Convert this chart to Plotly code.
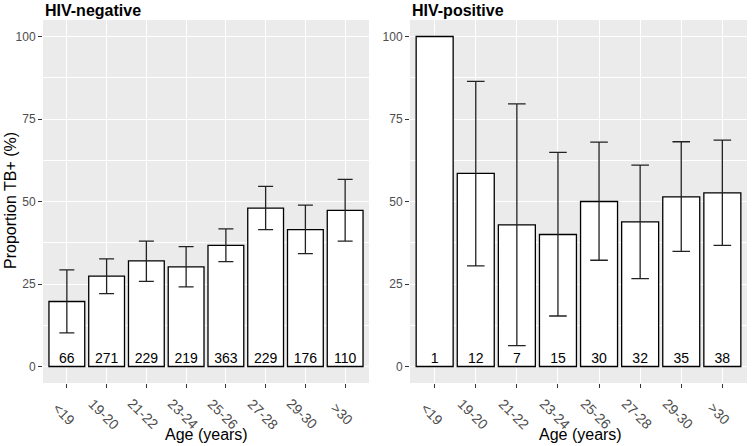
import plotly.graph_objects as go

age_groups = ["<19", "19-20", "21-22", "23-24", "25-26", "27-28", "29-30", ">30"]

neg_prop = [19.7, 27.4, 32.0, 30.2, 36.7, 48.0, 41.5, 47.3]
neg_low = [10.2, 22.1, 25.8, 24.1, 31.8, 41.5, 34.2, 38.0]
neg_high = [29.3, 32.6, 38.0, 36.3, 41.7, 54.6, 48.9, 56.7]
neg_n = [66, 271, 229, 219, 363, 229, 176, 110]

pos_prop = [100.0, 58.5, 42.9, 40.0, 50.0, 43.8, 51.4, 52.6]
pos_low = [None, 30.5, 6.3, 15.3, 32.2, 26.6, 34.9, 36.7]
pos_high = [None, 86.4, 79.6, 64.9, 68.0, 61.0, 68.1, 68.6]
pos_n = [1, 12, 7, 15, 30, 32, 35, 38]

y_ticks = [0, 25, 50, 75, 100]

W, H = 752, 446
FONT = "Liberation Sans, Arial, sans-serif"

fig = go.Figure()


def add_panel(prop, low, high, n, xa, ya, capw):
    plus = [(h - p) if h is not None else 0 for p, h in zip(prop, high)]
    minus = [(p - l) if l is not None else 0 for p, l in zip(prop, low)]
    vis = [h is not None for h in high]
    fig.add_trace(go.Bar(
        x=age_groups, y=prop, width=0.9,
        marker=dict(color="white", line=dict(color="black", width=1.3)),
        xaxis=xa, yaxis=ya, showlegend=False, hoverinfo="skip"))
    xs = [a for a, v in zip(age_groups, vis) if v]
    ys = [p for p, v in zip(prop, vis) if v]
    pl = [e for e, v in zip(plus, vis) if v]
    mi = [e for e, v in zip(minus, vis) if v]
    fig.add_trace(go.Scatter(
        x=xs, y=ys, mode="markers", marker=dict(size=0.1, color="rgba(0,0,0,0)"),
        error_y=dict(type="data", array=pl, arrayminus=mi, symmetric=False,
                     color="#222222", thickness=1.3, width=capw),
        xaxis=xa, yaxis=ya, showlegend=False, hoverinfo="skip"))
    fig.add_trace(go.Scatter(
        x=age_groups, y=[0] * len(age_groups), mode="text",
        text=[str(v) for v in n], textposition="top center",
        textfont=dict(family=FONT, size=14, color="black"),
        xaxis=xa, yaxis=ya, showlegend=False, hoverinfo="skip"))
    # rotated category labels (ggplot-style placement)
    for g in age_groups:
        fig.add_annotation(
            x=g, xref=xa, y=1 - 414 / H, yref="paper", text=g, showarrow=False,
            textangle=45, xanchor="center", yanchor="middle", xshift=-3,
            font=dict(family=FONT, size=14, color="#4D4D4D"))


add_panel(neg_prop, neg_low, neg_high, neg_n, "x", "y", 7.5)
add_panel(pos_prop, pos_low, pos_high, pos_n, "x2", "y2", 8.8)

ydom = [1 - 383 / H, 1 - 20 / H]

xcommon = dict(
    type="category", categoryorder="array", categoryarray=age_groups,
    range=[-0.6, 7.6], showgrid=True, gridcolor="white", gridwidth=1.1,
    ticks="outside", ticklen=4, tickcolor="#333333", tickwidth=1,
    showticklabels=False,
    zeroline=False, showline=False, fixedrange=True)
ycommon = dict(
    range=[-5, 105], tickvals=y_ticks, showgrid=True, gridcolor="white", gridwidth=1.1,
    minor=dict(dtick=12.5, tick0=12.5, showgrid=True, gridcolor="white", gridwidth=0.5),
    ticks="outside", ticklen=4, tickcolor="#333333", tickwidth=1,
    tickfont=dict(family=FONT, size=12, color="#4D4D4D"),
    zeroline=False, showline=False, fixedrange=True)

fig.update_layout(
    width=W, height=H,
    margin=dict(l=0, r=0, t=0, b=0),
    paper_bgcolor="white", plot_bgcolor="#EBEBEB",
    xaxis=dict(domain=[43 / W, 369 / W], anchor="y", **xcommon),
    yaxis=dict(domain=ydom, anchor="x", **ycommon),
    xaxis2=dict(domain=[410 / W, 747 / W], anchor="y2", **xcommon),
    yaxis2=dict(domain=ydom, anchor="x2", **ycommon),
    bargap=0.1,
)

annots = [
    dict(text="<b>HIV-negative</b>", x=43 / W, y=1 - 0 / H, xanchor="left", yanchor="top",
         font=dict(family=FONT, size=16, color="black")),
    dict(text="<b>HIV-positive</b>", x=410 / W, y=1 - 0 / H, xanchor="left", yanchor="top",
         font=dict(family=FONT, size=16, color="black")),
    dict(text="Proportion TB+ (%)", x=10 / W, y=1 - 201 / H, textangle=-90,
         xanchor="center", yanchor="middle", font=dict(family=FONT, size=16, color="black")),
    dict(text="Age (years)", x=206 / W, y=1 - 434 / H, xanchor="center", yanchor="middle",
         font=dict(family=FONT, size=16, color="black")),
    dict(text="Age (years)", x=580 / W, y=1 - 434 / H, xanchor="center", yanchor="middle",
         font=dict(family=FONT, size=16, color="black")),
]
for a in annots:
    fig.add_annotation(xref="paper", yref="paper", showarrow=False, **a)

fig.write_html("out.html", config={"displayModeBar": False},
               post_script="document.body.style.margin='0';document.body.style.overflow='hidden';")
